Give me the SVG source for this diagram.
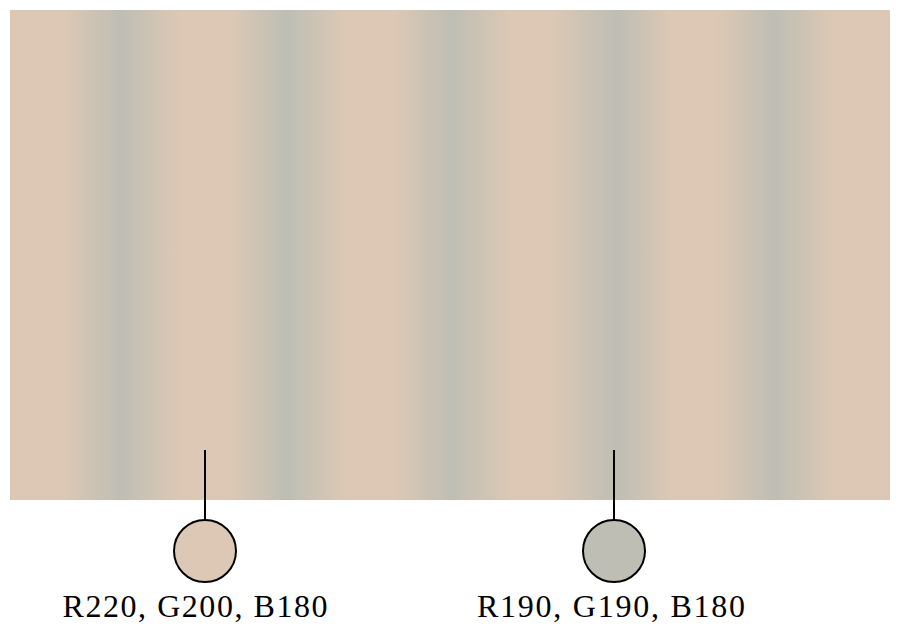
<svg xmlns="http://www.w3.org/2000/svg" width="900" height="634" viewBox="0 0 900 634">
  <style>
    .lbl { font-family: "Liberation Serif", "Times New Roman", serif; font-size: 32px; fill: #000; text-anchor: middle; }
    .lead { stroke: #000; stroke-width: 2; fill: none; }
    .dot { stroke: #000; stroke-width: 2; }
  </style>
  <defs>
    <linearGradient id="stripes" gradientUnits="userSpaceOnUse" x1="10" y1="0" x2="890" y2="0">
      <stop offset="0" stop-color="#dcc8b4"/>
      <stop offset="0.0625" stop-color="#dcc8b4"/>
      <stop offset="0.125" stop-color="#bebeb4"/>
      <stop offset="0.193" stop-color="#dcc8b4"/>
      <stop offset="0.25" stop-color="#dcc8b4"/>
      <stop offset="0.315" stop-color="#bebeb4"/>
      <stop offset="0.381" stop-color="#dcc8b4"/>
      <stop offset="0.437" stop-color="#dcc8b4"/>
      <stop offset="0.502" stop-color="#bebeb4"/>
      <stop offset="0.568" stop-color="#dcc8b4"/>
      <stop offset="0.614" stop-color="#dcc8b4"/>
      <stop offset="0.690" stop-color="#bebeb4"/>
      <stop offset="0.750" stop-color="#dcc8b4"/>
      <stop offset="0.804" stop-color="#dcc8b4"/>
      <stop offset="0.869" stop-color="#bebeb4"/>
      <stop offset="0.935" stop-color="#dcc8b4"/>
      <stop offset="1" stop-color="#dcc8b4"/>
    </linearGradient>
  </defs>
  <rect x="0" y="0" width="900" height="634" fill="#ffffff"/>
  <rect id="pattern" x="10" y="10" width="880" height="490" fill="url(#stripes)"/>
  <g id="connectors">
    <line class="lead" x1="205" y1="450" x2="205" y2="520"/>
    <line class="lead" x1="614" y1="450" x2="614" y2="520"/>
  </g>
  <g id="swatch-beige">
    <circle class="dot" cx="205" cy="551" r="31" fill="#dcc8b4"/>
    <text class="lbl" x="195" y="617" textLength="265" lengthAdjust="spacing">R220, G200, B180</text>
  </g>
  <g id="swatch-gray">
    <circle class="dot" cx="614" cy="551" r="31" fill="#bebeb4"/>
    <text class="lbl" x="611" y="617" textLength="268" lengthAdjust="spacing">R190, G190, B180</text>
  </g>
</svg>
